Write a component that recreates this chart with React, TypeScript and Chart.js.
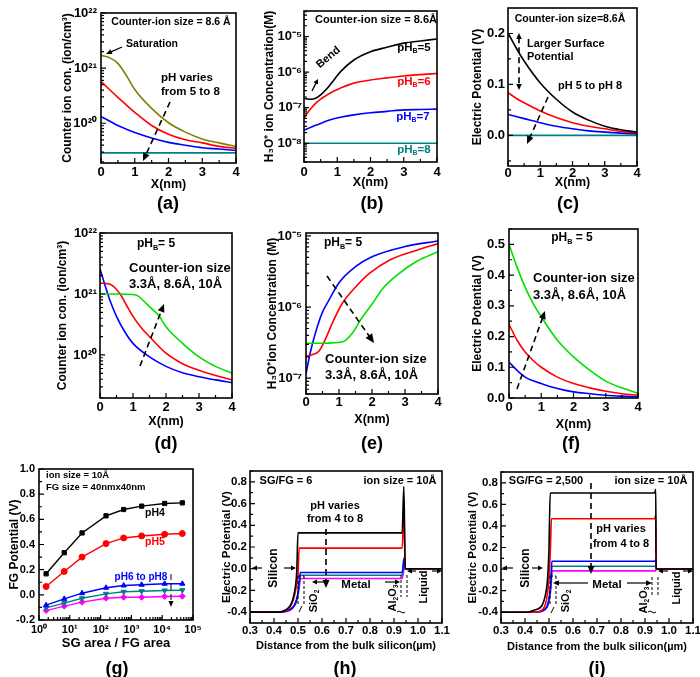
import React, { useEffect, useRef } from 'react';
import { Chart, registerables } from 'chart.js';
Chart.register(...registerables);

const FF = '"Liberation Sans", Arial, Helvetica, sans-serif';
const BLACK = '#000000';
const OLIVE = '#808000';
const RED = '#ff0000';
const BLUE = '#0000ff';
const TEAL = '#008080';
const GREEN = '#00e000';
const MAGENTA = '#ff00ff';

// ---------- tick values ----------
const nmTicks = [0, 1, 2, 3, 4];
const ionTicks = [1e20, 1e21, 1e22];
const h3oTicksB = [1e-8, 1e-7, 1e-6, 1e-5];
const h3oTicksE = [1e-7, 1e-6, 1e-5];
const potTicksC = [0, 0.1, 0.2];
const potTicksF = [0, 0.1, 0.2, 0.3, 0.4, 0.5];
const areaTicks = [1, 10, 100, 1000, 10000, 100000];
const fgTicks = [-0.2, 0, 0.2, 0.4, 0.6, 0.8, 1.0];
const distTicks = [0.3, 0.4, 0.5, 0.6, 0.7, 0.8, 0.9, 1.0, 1.1];
const epTicks = [-0.4, -0.2, 0, 0.2, 0.4, 0.6, 0.8];

// ---------- (a) counter ion concentration vs X, pH 5..8 ----------
const aX = [0, 0.25, 0.5, 0.75, 1, 1.5, 2, 2.5, 3, 3.5, 4];
const aPH5 = [1.7e21, 1.55e21, 1.22e21, 7.4e20, 4.1e20, 1.86e20, 1.02e20, 6.9e19, 5.2e19, 4.4e19, 3.8e19];
const aPH6 = [5.75e20, 4.1e20, 2.95e20, 2.15e20, 1.58e20, 9.1e19, 6.3e19, 5.0e19, 4.4e19, 3.8e19, 3.5e19];
const aPH7 = [1.32e20, 1.1e20, 9.1e19, 7.8e19, 6.8e19, 5.4e19, 4.5e19, 4.0e19, 3.6e19, 3.4e19, 3.2e19];
const aX8 = [0, 4];
const aPH8 = [2.9e19, 2.9e19];

// ---------- (b) H3O+ concentration vs X ----------
const bX = [0, 0.2, 0.35, 0.5, 0.7, 0.9, 1.1, 1.5, 2, 2.5, 3, 3.5, 4];
const bPH5 = [1.84e-7, 1.72e-7, 1.84e-7, 2.28e-7, 3.5e-7, 6.0e-7, 1.03e-6, 2.19e-6, 3.74e-6, 5.0e-6, 6.5e-6, 7.5e-6, 8.5e-6];
const bPH6 = [5.2e-8, 9.3e-8, 1.32e-7, 1.74e-7, 2.3e-7, 2.95e-7, 3.55e-7, 4.9e-7, 6.0e-7, 6.9e-7, 7.8e-7, 8.5e-7, 9.1e-7];
const bPH7 = [2.34e-8, 2.8e-8, 3.2e-8, 3.6e-8, 4.3e-8, 4.9e-8, 5.4e-8, 6.3e-8, 7.2e-8, 7.9e-8, 8.7e-8, 8.9e-8, 9.1e-8];
const bX8 = [0, 4];
const bPH8 = [1e-8, 1e-8];

// ---------- (c) electric potential vs X ----------
const cX = [0, 0.25, 0.5, 1, 1.5, 2, 2.5, 3, 3.5, 4];
const cPH5 = [0.201, 0.172, 0.146, 0.103, 0.071, 0.046, 0.03, 0.018, 0.011, 0.0065];
const cPH6 = [0.084, 0.073, 0.064, 0.048, 0.035, 0.025, 0.018, 0.013, 0.008, 0.005];
const cPH7 = [0.041, 0.037, 0.033, 0.025, 0.018, 0.013, 0.009, 0.0065, 0.0045, 0.003];
const cX8 = [0, 4];
const cPH8 = [0, 0];

// ---------- (d) counter ion concentration, ion sizes ----------
const dX33 = [0, 0.15, 0.3, 0.5, 0.75, 1, 1.5, 2, 2.5, 3, 3.5, 4];
const d33 = [2.6e21, 1.4e21, 7.9e20, 4.3e20, 2.4e20, 1.55e20, 9.3e19, 6.5e19, 5.1e19, 4.4e19, 3.9e19, 3.5e19];
const dX86 = [0, 0.3, 0.6, 0.8, 1, 1.25, 1.5, 2, 2.5, 3, 3.5, 4];
const d86 = [1.51e21, 1.45e21, 1.02e21, 6.6e20, 4.3e20, 2.8e20, 2.0e20, 1.07e20, 7.2e19, 5.6e19, 4.6e19, 3.9e19];
const dX10 = [0, 0.5, 1, 1.15, 1.3, 1.5, 1.8, 2, 2.5, 3, 3.5, 4];
const d10 = [1.0e21, 1.0e21, 9.8e20, 9.3e20, 7.9e20, 6.2e20, 4.3e20, 2.9e20, 1.55e20, 9.3e19, 6.5e19, 5.0e19];

// ---------- (e) H3O+ concentration, ion sizes ----------
const eX33 = [0, 0.13, 0.29, 0.49, 0.7, 1.0, 1.5, 2.0, 3.0, 4.0];
const e33 = [1.15e-7, 2.3e-7, 4.4e-7, 8.3e-7, 1.26e-6, 2.2e-6, 3.7e-6, 5.1e-6, 7.1e-6, 8.5e-6];
const eX86 = [0, 0.18, 0.39, 0.59, 0.8, 1.11, 1.42, 1.93, 2.54, 3.36, 4.0];
const e86 = [2.04e-7, 2.14e-7, 2.4e-7, 3.55e-7, 6.0e-7, 1.15e-6, 1.74e-6, 3.0e-6, 4.6e-6, 6.3e-6, 7.8e-6];
const eX10 = [0, 0.5, 1.11, 1.42, 1.67, 2.03, 2.34, 2.75, 3.36, 4.0];
const e10 = [3.1e-7, 3.1e-7, 3.25e-7, 4.4e-7, 6.8e-7, 1.15e-6, 1.86e-6, 2.8e-6, 4.4e-6, 6.0e-6];

// ---------- (f) electric potential, ion sizes ----------
const fX = [0, 0.25, 0.5, 0.75, 1, 1.5, 2, 2.5, 3, 3.5, 4];
const f10 = [0.5, 0.426, 0.361, 0.307, 0.264, 0.188, 0.134, 0.091, 0.055, 0.033, 0.015];
const f86 = [0.24, 0.188, 0.15, 0.122, 0.1, 0.068, 0.047, 0.033, 0.022, 0.014, 0.009];
const f33 = [0.117, 0.09, 0.068, 0.056, 0.047, 0.031, 0.02, 0.014, 0.009, 0.006, 0.004];

// ---------- (g) FG potential vs SG/FG area ----------
const gX = [1.7, 6.6, 25, 150, 560, 2150, 12000, 45000];
const gPH4 = [0.167, 0.335, 0.492, 0.628, 0.678, 0.705, 0.726, 0.731];
const gPH5 = [0.066, 0.186, 0.3, 0.407, 0.452, 0.468, 0.481, 0.487];
const gPH6 = [-0.082, -0.032, 0.013, 0.056, 0.074, 0.08, 0.088, 0.088];
const gPH7 = [-0.104, -0.066, -0.027, 0.008, 0.024, 0.029, 0.035, 0.037];
const gPH8 = [-0.125, -0.09, -0.058, -0.027, -0.019, -0.019, -0.013, -0.011];

// ---------- (h) potential profile, SG/FG = 6 ----------
const hX4 = [0.3, 0.42, 0.44, 0.46, 0.47, 0.48, 0.49, 0.495, 0.5, 0.934, 0.941, 0.947, 1.1];
const hPH4 = [-0.4, -0.4, -0.39, -0.36, -0.33, -0.27, -0.15, -0.02, 0.33, 0.33, 0.76, 0, 0];
const hX5 = [0.3, 0.42, 0.44, 0.46, 0.47, 0.48, 0.49, 0.5, 0.505, 0.934, 0.941, 0.947, 1.1];
const hPH5 = [-0.4, -0.4, -0.39, -0.37, -0.34, -0.29, -0.2, -0.05, 0.19, 0.19, 0.51, 0, 0];
const hX6 = [0.3, 0.43, 0.45, 0.47, 0.48, 0.49, 0.5, 0.505, 0.51, 0.934, 0.942, 0.947, 1.1];
const hPH6 = [-0.4, -0.4, -0.39, -0.37, -0.35, -0.31, -0.22, -0.12, -0.035, -0.035, 0.1, 0, 0];
const hX7 = [0.3, 0.43, 0.45, 0.47, 0.48, 0.49, 0.5, 0.505, 0.51, 0.934, 0.942, 0.947, 1.1];
const hPH7 = [-0.4, -0.4, -0.39, -0.375, -0.355, -0.32, -0.24, -0.14, -0.06, -0.06, 0.05, 0, 0];
const hX8 = [0.3, 0.44, 0.46, 0.475, 0.485, 0.495, 0.503, 0.508, 0.512, 0.934, 0.943, 1.1];
const hPH8 = [-0.4, -0.4, -0.39, -0.37, -0.34, -0.29, -0.2, -0.12, -0.09, -0.09, 0, 0];

// ---------- (i) potential profile, SG/FG = 2,500 ----------
const iX4 = [0.3, 0.41, 0.44, 0.47, 0.483, 0.494, 0.5, 0.505, 0.94, 0.945, 0.946, 1.1];
const iPH4 = [-0.4, -0.4, -0.38, -0.34, -0.26, -0.09, 0.19, 0.705, 0.705, 0.74, 0, 0];
const iX5 = [0.3, 0.43, 0.47, 0.49, 0.5, 0.506, 0.51, 0.94, 0.945, 0.946, 1.1];
const iPH5 = [-0.4, -0.4, -0.38, -0.28, -0.09, 0.19, 0.467, 0.467, 0.5, 0, 0];
const iX6 = [0.3, 0.44, 0.483, 0.497, 0.508, 0.512, 0.942, 0.945, 0.946, 1.1];
const iPH6 = [-0.4, -0.4, -0.37, -0.31, -0.12, 0.073, 0.073, 0.09, 0, 0];
const iX7 = [0.3, 0.44, 0.485, 0.498, 0.508, 0.512, 0.944, 0.946, 1.1];
const iPH7 = [-0.4, -0.4, -0.37, -0.31, -0.14, 0.026, 0.026, 0, 0];
const iX8 = [0.3, 0.45, 0.487, 0.5, 0.509, 0.513, 0.945, 0.946, 1.1];
const iPH8 = [-0.4, -0.4, -0.37, -0.3, -0.15, -0.017, -0.017, 0, 0];

// ---------- helpers ----------
const SUP = { '-': '\u207B', '0': '\u2070', '1': '\u00B9', '2': '\u00B2', '3': '\u00B3', '4': '\u2074', '5': '\u2075', '6': '\u2076', '7': '\u2077', '8': '\u2078', '9': '\u2079' };
function supNum(n: number) {
  return String(n).split('').map((ch) => SUP[ch] ?? ch).join('');
}

function series(xs: number[], ys: number[], color: string, extra: any = {}) {
  return {
    data: xs.map((x, i) => ({ x, y: ys[i] })),
    borderColor: color,
    backgroundColor: color,
    borderWidth: 1.6,
    pointRadius: 0,
    fill: false,
    cubicInterpolationMode: 'monotone',
    ...extra,
  };
}
function marked(xs: number[], ys: number[], color: string, style: string, rot = 0) {
  return series(xs, ys, color, {
    cubicInterpolationMode: 'default',
    tension: 0,
    borderWidth: 1.4,
    pointRadius: 3,
    pointStyle: style,
    pointRotation: rot,
    pointBorderWidth: 1,
    pointBackgroundColor: color,
  });
}

function minorVals(s: any, majors: number[]) {
  const out: number[] = [];
  const min = s.min, max = s.max;
  if (s.type === 'logarithmic') {
    for (let e = Math.floor(Math.log10(min)); e <= Math.ceil(Math.log10(max)); e++) {
      for (let k = 2; k < 10; k++) {
        const v = k * Math.pow(10, e);
        if (v > min && v < max) out.push(v);
      }
    }
  } else if (majors.length > 1) {
    const st = majors[1] - majors[0];
    for (let v = majors[0] - st / 2; v < max; v += st) if (v > min) out.push(v);
  }
  return out;
}

const framePlugin = {
  id: 'frame',
  afterDatasetsDraw(chart: any) {
    const { ctx, chartArea } = chart;
    const { left, top, right, bottom } = chartArea;
    const xs = chart.scales.x, ys = chart.scales.y;
    const xM = xs.ticks.map((t: any) => t.value);
    const yM = ys.ticks.map((t: any) => t.value);
    ctx.save();
    ctx.strokeStyle = '#000';
    ctx.lineWidth = 1.2;
    ctx.beginPath();
    xM.forEach((v: number) => { const p = xs.getPixelForValue(v); ctx.moveTo(p, bottom); ctx.lineTo(p, bottom - 5); });
    minorVals(xs, xM).forEach((v) => { const p = xs.getPixelForValue(v); ctx.moveTo(p, bottom); ctx.lineTo(p, bottom - 3); });
    yM.forEach((v: number) => { const p = ys.getPixelForValue(v); ctx.moveTo(left, p); ctx.lineTo(left + 5, p); });
    minorVals(ys, yM).forEach((v) => { const p = ys.getPixelForValue(v); ctx.moveTo(left, p); ctx.lineTo(left + 3, p); });
    ctx.stroke();
    ctx.lineWidth = 1.6;
    ctx.strokeRect(left, top, right - left, bottom - top);
    ctx.restore();
  },
};

function axisOpts(ax: any, isX: boolean, spec: any) {
  const [cl, , , cb] = spec.canvas;
  const [l, , , b] = spec.box;
  const lh = ax.titleSize * 1.2;
  const titlePad = isX
    ? { top: 0, bottom: Math.max(0, cb - ax.titlePos - lh / 2) }
    : { top: Math.max(0, ax.titlePos - cl - lh / 2), bottom: 0 };
  return {
    type: ax.type,
    min: ax.min,
    max: ax.max,
    position: isX ? 'bottom' : 'left',
    grid: { display: false, drawTicks: false },
    border: { display: false },
    ticks: {
      color: '#000',
      font: { family: FF, size: ax.tickSize, weight: 'bold' },
      padding: ax.tickPad,
      maxRotation: 0,
      minRotation: 0,
      autoSkip: false,
      callback: (v: any) => (ax.type === 'logarithmic' ? '10' + supNum(Math.round(Math.log10(v))) : Number(v).toFixed(ax.dec ?? 0)),
    },
    title: { display: true, text: ax.title, color: '#000', font: { family: FF, size: ax.titleSize, weight: 'bold', lineHeight: 1.2 }, padding: titlePad },
    afterBuildTicks: (s: any) => { s.ticks = ax.ticks.map((v: number) => ({ value: v })); },
    afterFit: (s: any) => {
      if (isX) { s.height = cb - b; s.paddingLeft = 0; s.paddingRight = 0; }
      else { s.width = l - cl; s.paddingTop = 0; s.paddingBottom = 0; }
    },
  };
}

function buildConfig(spec: any) {
  const [cl, ct, cr] = spec.canvas;
  const [, t, r] = spec.box;
  return {
    type: 'line',
    data: { datasets: spec.datasets },
    options: {
      animation: false,
      responsive: false,
      maintainAspectRatio: false,
      devicePixelRatio: 1,
      events: [],
      layout: { padding: { left: 0, top: t - ct, right: cr - r, bottom: 0 } },
      plugins: { legend: { display: false }, tooltip: { enabled: false } },
      scales: { x: axisOpts(spec.x, true, spec), y: axisOpts(spec.y, false, spec) },
    },
    plugins: [framePlugin],
  };
}

const xNm = (tickPad: number, titlePos: number) => ({ type: 'linear', min: 0, max: 4, ticks: nmTicks, dec: 0, title: 'X(nm)', titleSize: 12.5, tickSize: 13, tickPad, titlePos });
const xDist = (titlePos: number) => ({ type: 'linear', min: 0.3, max: 1.1, ticks: distTicks, dec: 1, title: 'Distance from the bulk silicon(\u00B5m)', titleSize: 11, tickSize: 11.5, tickPad: 1, titlePos });
const yEP = (titlePos: number) => ({ type: 'linear', min: -0.5, max: 0.9, ticks: epTicks, dec: 1, title: 'Electric Potential (V)', titleSize: 11.5, tickSize: 11.5, tickPad: 3, titlePos });

const PANELS = [
  {
    id: 'a', canvas: [55, 0, 250, 195], box: [101, 13, 236, 163],
    x: xNm(2, 185),
    y: { type: 'logarithmic', min: 1.9e19, max: 1e22, ticks: ionTicks, title: 'Counter ion con. (ion/cm\u00B3)', titleSize: 12, tickSize: 13, tickPad: 4, titlePos: 68 },
    datasets: [series(aX, aPH5, OLIVE), series(aX, aPH6, RED), series(aX, aPH7, BLUE), series(aX8, aPH8, TEAL)],
  },
  {
    id: 'b', canvas: [258, 0, 450, 195], box: [304, 11, 437, 162],
    x: xNm(3, 183),
    y: { type: 'logarithmic', min: 2.985e-9, max: 5.2e-5, ticks: h3oTicksB, title: 'H\u2083O\u207A ion Concentration(M)', titleSize: 12, tickSize: 13, tickPad: 2, titlePos: 270 },
    datasets: [series(bX, bPH5, BLACK), series(bX, bPH6, RED), series(bX, bPH7, BLUE), series(bX8, bPH8, TEAL)],
  },
  {
    id: 'c', canvas: [466, 0, 650, 195], box: [508, 8, 637, 166],
    x: xNm(0, 183),
    y: { type: 'linear', min: -0.06, max: 0.25, ticks: potTicksC, dec: 1, title: 'Electric Potential (V)', titleSize: 12, tickSize: 13, tickPad: 3, titlePos: 478 },
    datasets: [series(cX, cPH5, BLACK), series(cX, cPH6, RED), series(cX, cPH7, BLUE), series(cX8, cPH8, TEAL)],
  },
  {
    id: 'd', canvas: [50, 218, 245, 435], box: [100, 233, 232, 398],
    x: xNm(2, 422),
    y: { type: 'logarithmic', min: 1.97e19, max: 1e22, ticks: ionTicks, title: 'Counter ion con. (ion/cm\u00B3)', titleSize: 12, tickSize: 13, tickPad: 3, titlePos: 63 },
    datasets: [series(dX10, d10, GREEN), series(dX86, d86, RED), series(dX33, d33, BLUE)],
  },
  {
    id: 'e', canvas: [258, 218, 450, 435], box: [306, 233, 438, 394],
    x: xNm(1, 420),
    y: { type: 'logarithmic', min: 6.2e-8, max: 1.1e-5, ticks: h3oTicksE, title: 'H\u2083O\u207Aion Concentration (M)', titleSize: 12, tickSize: 13, tickPad: 4, titlePos: 273 },
    datasets: [series(eX10, e10, GREEN), series(eX86, e86, RED), series(eX33, e33, BLUE)],
  },
  {
    id: 'f', canvas: [466, 216, 652, 435], box: [509, 229, 638, 398],
    x: xNm(2, 425),
    y: { type: 'linear', min: 0, max: 0.55, ticks: potTicksF, dec: 1, title: 'Electric Potential (V)', titleSize: 12, tickSize: 13, tickPad: 4, titlePos: 478 },
    datasets: [series(fX, f10, GREEN), series(fX, f86, RED), series(fX, f33, BLUE)],
  },
  {
    id: 'g', canvas: [2, 455, 205, 655], box: [39, 469, 193, 620],
    x: { type: 'logarithmic', min: 1, max: 1e5, ticks: areaTicks, title: 'SG area / FG area', titleSize: 13, tickSize: 11, tickPad: 3, titlePos: 643 },
    y: { type: 'linear', min: -0.2, max: 1.0, ticks: fgTicks, dec: 1, title: 'FG Potential (V)', titleSize: 12, tickSize: 11, tickPad: 4, titlePos: 15 },
    datasets: [
      marked(gX, gPH4, BLACK, 'rect'),
      marked(gX, gPH5, RED, 'circle'),
      marked(gX, gPH6, BLUE, 'triangle'),
      marked(gX, gPH7, TEAL, 'triangle', 180),
      marked(gX, gPH8, MAGENTA, 'rectRot'),
    ],
  },
  {
    id: 'h', canvas: [217, 458, 455, 660], box: [250, 471, 442, 623],
    x: xDist(646),
    y: yEP(227),
    datasets: [series(hX4, hPH4, BLACK), series(hX5, hPH5, RED), series(hX6, hPH6, BLUE), series(hX7, hPH7, TEAL), series(hX8, hPH8, MAGENTA)],
  },
  {
    id: 'i', canvas: [462, 458, 700, 660], box: [501, 472, 693, 623],
    x: xDist(647),
    y: yEP(473),
    datasets: [series(iX4, iPH4, BLACK), series(iX5, iPH5, RED), series(iX6, iPH6, BLUE), series(iX7, iPH7, TEAL), series(iX8, iPH8, MAGENTA)],
  },
];

function Panel({ spec }: { spec: any }) {
  const ref = useRef<HTMLCanvasElement | null>(null);
  useEffect(() => {
    const chart = new Chart(ref.current as any, buildConfig(spec) as any);
    return () => chart.destroy();
  }, [spec]);
  const [cl, ct, cr, cb] = spec.canvas;
  return (
    <canvas
      ref={ref}
      width={cr - cl}
      height={cb - ct}
      style={{ position: 'absolute', left: cl, top: ct, width: cr - cl, height: cb - ct }}
    />
  );
}

function T({ x, y, s = 11, c = '#000', r = 0, a = 'c', w = 'bold', children }: any) {
  const tx = a === 'c' ? '-50%' : a === 'l' ? '0%' : '-100%';
  return (
    <div
      style={{
        position: 'absolute', left: x, top: y,
        transform: `translate(${tx},-50%) rotate(${r}deg)`,
        fontFamily: FF, fontWeight: w as any, fontSize: s, color: c,
        whiteSpace: 'nowrap', lineHeight: 1,
      }}
    >
      {children}
    </div>
  );
}
const Sub = ({ children }: any) => (
  <span style={{ fontSize: '0.6em', position: 'relative', top: '0.35em' }}>{children}</span>
);

function Arrow({ p, dash = false, heads = 'end', hs = 7, hw = 3, w = 1.6 }: any) {
  const [x1, y1, x2, y2] = p;
  const dx = x2 - x1, dy = y2 - y1;
  const L = Math.hypot(dx, dy);
  const ux = dx / L, uy = dy / L, px = -uy, py = ux;
  const head = (tx: number, ty: number, sx: number, sy: number) =>
    `${tx},${ty} ${tx - sx * hs + px * hw},${ty - sy * hs + py * hw} ${tx - sx * hs - px * hw},${ty - sy * hs - py * hw}`;
  const hasEnd = heads === 'end' || heads === 'both';
  const hasStart = heads === 'start' || heads === 'both';
  const lx1 = hasStart ? x1 + ux * hs * 0.7 : x1;
  const ly1 = hasStart ? y1 + uy * hs * 0.7 : y1;
  const lx2 = hasEnd ? x2 - ux * hs * 0.7 : x2;
  const ly2 = hasEnd ? y2 - uy * hs * 0.7 : y2;
  return (
    <g>
      <line x1={lx1} y1={ly1} x2={lx2} y2={ly2} stroke="#000" strokeWidth={w} strokeDasharray={dash ? '6 4' : undefined} />
      {hasEnd && <polygon points={head(x2, y2, ux, uy)} fill="#000" />}
      {hasStart && <polygon points={head(x1, y1, -ux, -uy)} fill="#000" />}
    </g>
  );
}

const ION = '3.3\u00C5, 8.6\u00C5, 10\u00C5';

export default function App() {
  return (
    <div style={{ position: 'absolute', left: 0, top: 0, width: 700, height: 677, background: '#fff', overflow: 'hidden', fontFamily: FF }}>
      {PANELS.map((p) => <Panel key={p.id} spec={p} />)}

      <svg width={700} height={677} style={{ position: 'absolute', left: 0, top: 0, pointerEvents: 'none' }}>
        {/* (a) */}
        <Arrow p={[122, 47, 106, 54]} hs={6} hw={2.6} w={1.3} />
        <Arrow p={[170, 102, 143, 161]} dash hs={8} hw={3.5} />
        {/* (b) */}
        <Arrow p={[312, 91, 318, 79]} hs={5} hw={2.5} w={1.3} />
        {/* (c) */}
        <Arrow p={[519, 33, 519, 90]} dash heads="both" hs={6} hw={2.8} />
        <Arrow p={[548, 97, 527, 144]} dash hs={8} hw={3.5} />
        {/* (d) */}
        <Arrow p={[140, 366, 164, 304]} dash hs={8} hw={3.5} />
        {/* (e) */}
        <Arrow p={[327, 276, 374, 343]} dash hs={9} hw={4} />
        {/* (f) */}
        <Arrow p={[517, 389, 545, 311]} dash hs={8} hw={3.5} />
        {/* (g) */}
        <Arrow p={[171, 574, 171, 607]} dash hs={6} hw={2.5} w={1} />
        {/* (h) */}
        <Arrow p={[326, 529, 326, 588]} dash hs={8} hw={3.5} />
        <Arrow p={[262, 568, 252, 568]} hs={5} hw={2.5} w={1.2} />
        <Arrow p={[284, 568, 296, 568]} hs={5} hw={2.5} w={1.2} />
        <Arrow p={[326, 582, 312, 582]} hs={5} hw={2.5} w={1.2} />
        <Arrow p={[385, 582, 400, 582]} hs={5} hw={2.5} w={1.2} />
        <Arrow p={[416, 571, 407, 571]} hs={5} hw={2.5} w={1.2} />
        <Arrow p={[432, 571, 442, 571]} hs={5} hw={2.5} w={1.2} />
        <path d="M298,576 V604 M304,576 V604 M298,576 H304" stroke="#000" strokeWidth={1} strokeDasharray="3 2" fill="none" />
        <path d="M302,606 L299,612" stroke="#000" strokeWidth={1} fill="none" />
        <path d="M401,575 V597 M407,575 V597" stroke="#000" strokeWidth={1} strokeDasharray="3 2" fill="none" />
        <path d="M397,612 q2,-2 4,0 t4,0" stroke="#000" strokeWidth={1} fill="none" />
        {/* (i) */}
        <Arrow p={[591, 483, 591, 574]} dash hs={8} hw={3.5} />
        <Arrow p={[513, 568, 502, 568]} hs={5} hw={2.5} w={1.2} />
        <Arrow p={[532, 568, 543, 568]} hs={5} hw={2.5} w={1.2} />
        <Arrow p={[588, 583, 553, 583]} hs={6} hw={2.8} w={1.2} />
        <Arrow p={[627, 583, 652, 583]} hs={6} hw={2.8} w={1.2} />
        <Arrow p={[668, 571, 658, 571]} hs={5} hw={2.5} w={1.2} />
        <Arrow p={[683, 571, 693, 571]} hs={5} hw={2.5} w={1.2} />
        <path d="M550,576 V605 M556,576 V605 M550,576 H556" stroke="#000" strokeWidth={1} strokeDasharray="3 2" fill="none" />
        <path d="M554,607 L551,613" stroke="#000" strokeWidth={1} fill="none" />
        <path d="M652,577 V597 M658,577 V597" stroke="#000" strokeWidth={1} strokeDasharray="3 2" fill="none" />
        <path d="M648,612 q2,-2 4,0 t4,0" stroke="#000" strokeWidth={1} fill="none" />
      </svg>

      {/* (a) */}
      <T x={171} y={21} s={10.5}>Counter-ion size = 8.6 {'\u00C5'}</T>
      <T x={152} y={43} s={10.5}>Saturation</T>
      <T x={161} y={78} s={11.5} a="l">pH varies</T>
      <T x={161} y={92} s={11.5} a="l">from 5 to 8</T>
      {/* (b) */}
      <T x={376} y={19} s={11}>Counter-ion size = 8.6{'\u00C5'}</T>
      <T x={328} y={57} s={11} r={-40}>Bend</T>
      <T x={414} y={48} s={11.5}>pH<Sub>B</Sub>=5</T>
      <T x={414} y={82} s={11.5} c={RED}>pH<Sub>B</Sub>=6</T>
      <T x={413} y={117} s={11.5} c={BLUE}>pH<Sub>B</Sub>=7</T>
      <T x={414} y={150} s={11.5} c={TEAL}>pH<Sub>B</Sub>=8</T>
      {/* (c) */}
      <T x={570} y={18} s={10.5}>Counter-ion size=8.6{'\u00C5'}</T>
      <T x={527} y={43} s={11} a="l">Larger Surface</T>
      <T x={527} y={56} s={11} a="l">Potential</T>
      <T x={590} y={85} s={11}>pH 5 to pH 8</T>
      {/* (d) */}
      <T x={156} y={243} s={12}>pH<Sub>B</Sub>= 5</T>
      <T x={129} y={267} s={13} a="l">Counter-ion size</T>
      <T x={129} y={283} s={13} a="l">{ION}</T>
      {/* (e) */}
      <T x={343} y={242} s={12}>pH<Sub>B</Sub>= 5</T>
      <T x={325} y={358} s={13} a="l">Counter-ion size</T>
      <T x={325} y={374} s={13} a="l">{ION}</T>
      {/* (f) */}
      <T x={572} y={237} s={12}>pH<Sub>B</Sub> = 5</T>
      <T x={533} y={277} s={13} a="l">Counter-ion size</T>
      <T x={533} y={294} s={13} a="l">{ION}</T>
      {/* (g) */}
      <T x={46} y={475} s={9.5} a="l">ion size = 10{'\u00C5'}</T>
      <T x={46} y={487} s={9.5} a="l">FG size = 40nmx40nm</T>
      <T x={155} y={512} s={10.5}>pH4</T>
      <T x={155} y={541} s={10.5} c={RED}>pH5</T>
      <T x={141} y={577} s={10} c={BLUE}>pH6 to pH8</T>
      {/* (h) */}
      <T x={286} y={480} s={11}>SG/FG = 6</T>
      <T x={400} y={480} s={11}>ion size = 10{'\u00C5'}</T>
      <T x={335} y={505} s={11}>pH varies</T>
      <T x={335} y={518} s={11}>from 4 to 8</T>
      <T x={273} y={568} s={12} r={-90}>Silicon</T>
      <T x={313} y={601} s={11} r={-90}>SiO<Sub>2</Sub></T>
      <T x={356} y={585} s={11.5}>Metal</T>
      <T x={392} y={598} s={11} r={-90}>Al<Sub>2</Sub>O<Sub>3</Sub></T>
      <T x={423} y={587} s={11} r={-90}>Liquid</T>
      {/* (i) */}
      <T x={546} y={480} s={11}>SG/FG = 2,500</T>
      <T x={651} y={480} s={11}>ion size = 10{'\u00C5'}</T>
      <T x={621} y={528} s={11}>pH varies</T>
      <T x={621} y={543} s={11}>from 4 to 8</T>
      <T x={525} y={568} s={12} r={-90}>Silicon</T>
      <T x={565} y={601} s={11} r={-90}>SiO<Sub>2</Sub></T>
      <T x={607} y={585} s={11.5}>Metal</T>
      <T x={643} y={600} s={11} r={-90}>Al<Sub>2</Sub>O<Sub>3</Sub></T>
      <T x={676} y={588} s={11} r={-90}>Liquid</T>

      {/* panel letters */}
      <T x={168} y={203} s={18}>(a)</T>
      <T x={372} y={203} s={18}>(b)</T>
      <T x={568} y={203} s={18}>(c)</T>
      <T x={166} y={443} s={18}>(d)</T>
      <T x={372} y={443} s={18}>(e)</T>
      <T x={571} y={443} s={18}>(f)</T>
      <T x={117} y={668} s={18}>(g)</T>
      <T x={345} y={668} s={18}>(h)</T>
      <T x={597} y={668} s={18}>(i)</T>
    </div>
  );
}
